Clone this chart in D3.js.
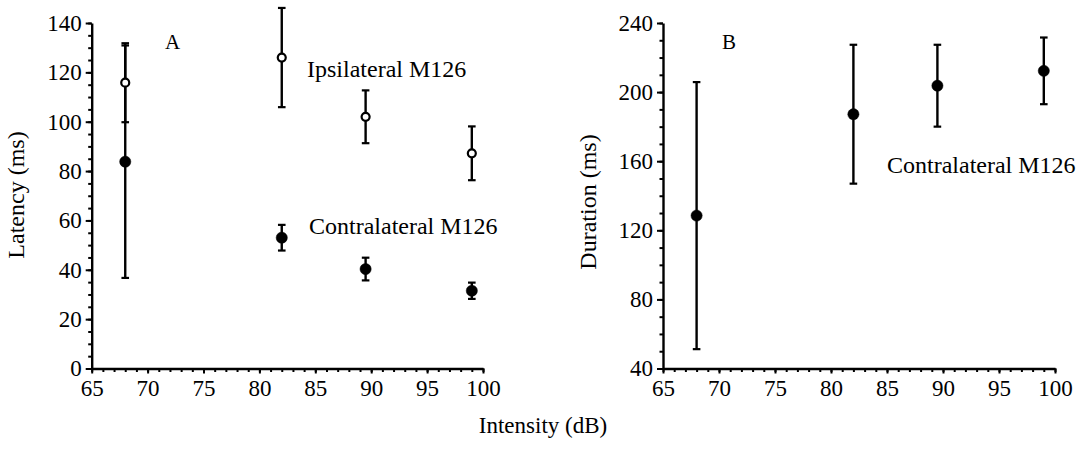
<!DOCTYPE html>
<html>
<head>
<meta charset="utf-8">
<script src="https://cdn.jsdelivr.net/npm/d3@7"></script>
<style>
  html, body { margin: 0; padding: 0; background: #fff; }
  svg { display: block; }
  svg text { font-family: "Liberation Serif", "Times New Roman", serif !important; fill: #000; }
</style>
</head>
<body>
<svg id="chart" width="1091" height="449"></svg>
<script>
// ---- data ----
const intensity = [68, 82, 89.5, 99];
const ipsiLatency = [115.8, 126, 102, 87.2];
const ipsiLatencyErr = [16, 20.1, 10.7, 10.9];
const contraLatency = [83.8, 53, 40.3, 31.5];
const contraLatencyErr = [47.1, 5.2, 4.6, 3.3];
const contraDuration = [128.5, 187.2, 203.7, 212.3];
const contraDurationErr = [77.3, 40.2, 23.7, 19.3];

const xTicks = [65, 70, 75, 80, 85, 90, 95, 100];
const latencyTicks = [0, 20, 40, 60, 80, 100, 120, 140];
const durationTicks = [40, 80, 120, 160, 200, 240];

const SERIF = "'Liberation Serif', 'Times New Roman', serif";
const svg = d3.select("#chart");

function panel(opts) {
  const g = svg.append("g");
  const x = d3.scaleLinear().domain([65, 100]).range(opts.xRange);
  const y = d3.scaleLinear().domain(opts.yDomain).range([368.5, 23]);

  // minor x ticks
  g.append("g").attr("transform", `translate(0,${y.range()[0]})`)
    .call(d3.axisBottom(x).tickValues(d3.range(65, 101, 1)).tickSize(3.5).tickFormat(""))
    .call(a => a.select(".domain").remove());
  // major x ticks
  const xa = g.append("g").attr("transform", `translate(0,${y.range()[0]})`)
    .call(d3.axisBottom(x).tickValues(xTicks).tickSize(5).tickSizeOuter(0).tickPadding(6).tickFormat(d3.format("d")));
  xa.attr("font-family", SERIF);
  xa.selectAll("text").attr("font-size", 23).style("font-family", SERIF);

  // minor y ticks
  g.append("g").attr("transform", `translate(${x.range()[0]},0)`)
    .call(d3.axisLeft(y).tickValues(opts.yMinor).tickSize(3.5).tickFormat(""))
    .call(a => a.select(".domain").remove());
  const ya = g.append("g").attr("transform", `translate(${x.range()[0]},0)`)
    .call(d3.axisLeft(y).tickValues(opts.yTicks).tickSize(6).tickSizeOuter(0).tickPadding(4).tickFormat(d3.format("d")));
  ya.attr("font-family", SERIF);
  ya.selectAll("text").attr("font-size", 23).style("font-family", SERIF);

  g.selectAll(".domain").attr("stroke", "#000").attr("stroke-width", 2.4);
  g.selectAll(".tick line").attr("stroke", "#000").attr("stroke-width", 2);

  // error bars + points
  opts.series.forEach(s => {
    const eb = g.append("g");
    intensity.forEach((xv, i) => {
      const cx = x(xv), y0 = y(s.vals[i] - s.err[i]), y1 = y(s.vals[i] + s.err[i]);
      eb.append("line").attr("x1", cx).attr("x2", cx).attr("y1", y0).attr("y2", y1)
        .attr("stroke", "#000").attr("stroke-width", 2.4);
      [y0, y1].forEach(yy => eb.append("line").attr("x1", cx - 3.8).attr("x2", cx + 3.8)
        .attr("y1", yy).attr("y2", yy).attr("stroke", "#000").attr("stroke-width", 2.2));
    });
    g.append("g").selectAll("circle").data(intensity).join("circle")
      .attr("cx", d => x(d))
      .attr("cy", (d, i) => y(s.vals[i]))
      .attr("r", s.open ? 4 : 5.6)
      .attr("fill", s.open ? "#fff" : "#000")
      .attr("stroke", "#000")
      .attr("stroke-width", s.open ? 2.2 : 0.5);
  });

  // axis title
  g.append("text")
    .attr("transform", `translate(${opts.yTitleX},${opts.yTitleY}) rotate(-90)`)
    .attr("text-anchor", "middle").attr("font-size", 24).text(opts.yTitle);
  // panel letter
  g.append("text").attr("x", opts.letterX).attr("y", 49).attr("font-size", 21).text(opts.letter);
  opts.notes.forEach(n => g.append("text").attr("x", n.x).attr("y", n.y)
    .attr("font-size", 24).text(n.text));
}

panel({
  xRange: [91.7, 483], yDomain: [0, 140], yTicks: latencyTicks,
  yMinor: d3.range(0, 141, 5),
  series: [
    { vals: contraLatency, err: contraLatencyErr, open: false },
    { vals: ipsiLatency, err: ipsiLatencyErr, open: true }
  ],
  yTitle: "Latency (ms)", yTitleX: 24, yTitleY: 195,
  letter: "A", letterX: 165,
  notes: [
    { text: "Ipsilateral M126", x: 307, y: 77 },
    { text: "Contralateral M126", x: 309, y: 234 }
  ]
});

panel({
  xRange: [663, 1055], yDomain: [40, 240], yTicks: durationTicks,
  yMinor: d3.range(40, 241, 10),
  series: [
    { vals: contraDuration, err: contraDurationErr, open: false }
  ],
  yTitle: "Duration (ms)", yTitleX: 596, yTitleY: 202,
  letter: "B", letterX: 722,
  notes: [
    { text: "Contralateral M126", x: 887, y: 173 }
  ]
});

svg.append("text").attr("x", 543).attr("y", 433).attr("text-anchor", "middle")
  .attr("font-size", 23).text("Intensity (dB)");
</script>
</body>
</html>
